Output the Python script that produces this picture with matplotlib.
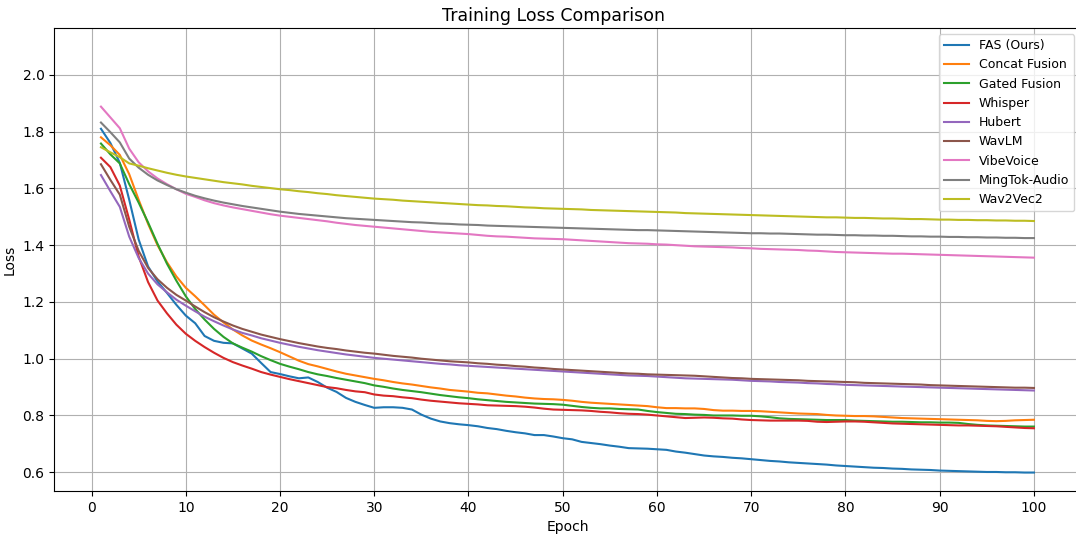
import numpy as np
import matplotlib
matplotlib.use("Agg")
import matplotlib.pyplot as plt

epochs = np.arange(1, 101)

fas = [1.810, 1.760, 1.690, 1.560, 1.420, 1.325, 1.272, 1.232, 1.190, 1.152,
       1.125, 1.080, 1.063, 1.056, 1.054, 1.036, 1.018, 0.985, 0.953, 0.946,
       0.938, 0.931, 0.934, 0.918, 0.898, 0.883, 0.862, 0.848, 0.837, 0.827,
       0.829, 0.829, 0.827, 0.821, 0.803, 0.789, 0.779, 0.773, 0.769, 0.766,
       0.762, 0.756, 0.752, 0.746, 0.741, 0.737, 0.731, 0.731, 0.726, 0.720,
       0.716, 0.707, 0.703, 0.699, 0.694, 0.690, 0.685, 0.684, 0.683, 0.681,
       0.679, 0.673, 0.669, 0.664, 0.659, 0.656, 0.654, 0.651, 0.649, 0.646,
       0.643, 0.640, 0.638, 0.635, 0.633, 0.631, 0.629, 0.627, 0.624, 0.622,
       0.620, 0.618, 0.616, 0.615, 0.613, 0.612, 0.610, 0.609, 0.608, 0.606,
       0.605, 0.604, 0.603, 0.602, 0.601, 0.601, 0.600, 0.600, 0.599, 0.599]

concat = [1.780, 1.752, 1.718, 1.650, 1.560, 1.475, 1.400, 1.340, 1.290, 1.250,
          1.220, 1.188, 1.155, 1.128, 1.103, 1.082, 1.064, 1.050, 1.037, 1.023,
          1.008, 0.993, 0.981, 0.973, 0.964, 0.955, 0.947, 0.941, 0.935, 0.929,
          0.924, 0.918, 0.913, 0.909, 0.904, 0.899, 0.895, 0.890, 0.887, 0.884,
          0.880, 0.878, 0.874, 0.870, 0.867, 0.863, 0.860, 0.858, 0.857, 0.855,
          0.852, 0.848, 0.845, 0.843, 0.841, 0.839, 0.837, 0.835, 0.833, 0.829,
          0.826, 0.826, 0.825, 0.825, 0.823, 0.819, 0.817, 0.817, 0.816, 0.816,
          0.815, 0.813, 0.811, 0.809, 0.807, 0.806, 0.805, 0.802, 0.800, 0.799,
          0.798, 0.798, 0.797, 0.795, 0.793, 0.791, 0.790, 0.789, 0.788, 0.787,
          0.786, 0.785, 0.784, 0.783, 0.781, 0.780, 0.781, 0.783, 0.784, 0.785]

gated = [1.758, 1.720, 1.688, 1.615, 1.550, 1.480, 1.405, 1.335, 1.275, 1.220,
         1.175, 1.138, 1.105, 1.077, 1.054, 1.039, 1.025, 1.009, 0.995, 0.982,
         0.972, 0.963, 0.953, 0.945, 0.939, 0.932, 0.926, 0.920, 0.914, 0.906,
         0.901, 0.895, 0.890, 0.886, 0.882, 0.877, 0.872, 0.868, 0.864, 0.861,
         0.857, 0.854, 0.851, 0.848, 0.846, 0.844, 0.842, 0.841, 0.840, 0.838,
         0.834, 0.830, 0.827, 0.825, 0.825, 0.823, 0.822, 0.821, 0.816, 0.812,
         0.809, 0.806, 0.805, 0.803, 0.802, 0.800, 0.800, 0.800, 0.799, 0.799,
         0.797, 0.794, 0.790, 0.788, 0.787, 0.786, 0.785, 0.784, 0.784, 0.784,
         0.782, 0.781, 0.780, 0.779, 0.778, 0.778, 0.777, 0.776, 0.776, 0.775,
         0.775, 0.774, 0.770, 0.767, 0.765, 0.764, 0.763, 0.762, 0.761, 0.761]

whisper = [1.708, 1.675, 1.610, 1.490, 1.360, 1.270, 1.205, 1.160, 1.120, 1.088,
           1.063, 1.041, 1.021, 1.003, 0.988, 0.976, 0.965, 0.953, 0.944, 0.936,
           0.928, 0.921, 0.914, 0.907, 0.900, 0.896, 0.890, 0.885, 0.882, 0.874,
           0.870, 0.868, 0.864, 0.861, 0.856, 0.852, 0.849, 0.846, 0.843, 0.841,
           0.839, 0.836, 0.835, 0.834, 0.833, 0.831, 0.828, 0.824, 0.821, 0.820,
           0.819, 0.818, 0.816, 0.813, 0.811, 0.808, 0.806, 0.805, 0.803, 0.800,
           0.797, 0.794, 0.791, 0.792, 0.793, 0.792, 0.790, 0.789, 0.786, 0.784,
           0.783, 0.782, 0.782, 0.782, 0.782, 0.781, 0.778, 0.777, 0.778, 0.779,
           0.779, 0.778, 0.776, 0.774, 0.772, 0.771, 0.770, 0.769, 0.768, 0.767,
           0.766, 0.765, 0.765, 0.764, 0.763, 0.762, 0.760, 0.758, 0.756, 0.755]

hubert = [1.647, 1.590, 1.535, 1.430, 1.355, 1.300, 1.262, 1.234, 1.208, 1.187,
          1.167, 1.148, 1.132, 1.117, 1.103, 1.091, 1.082, 1.072, 1.064, 1.056,
          1.049, 1.042, 1.036, 1.030, 1.025, 1.020, 1.015, 1.011, 1.007, 1.003,
          1.000, 0.997, 0.994, 0.991, 0.988, 0.985, 0.982, 0.980, 0.977, 0.975,
          0.973, 0.971, 0.969, 0.967, 0.965, 0.963, 0.961, 0.959, 0.957, 0.955,
          0.953, 0.951, 0.949, 0.947, 0.945, 0.943, 0.941, 0.940, 0.939, 0.937,
          0.935, 0.933, 0.931, 0.930, 0.929, 0.928, 0.927, 0.926, 0.924, 0.922,
          0.921, 0.920, 0.918, 0.917, 0.916, 0.914, 0.913, 0.911, 0.910, 0.908,
          0.907, 0.906, 0.905, 0.904, 0.903, 0.902, 0.901, 0.900, 0.899, 0.898,
          0.897, 0.896, 0.895, 0.894, 0.893, 0.892, 0.891, 0.890, 0.889, 0.888]

wavlm = [1.685, 1.630, 1.578, 1.465, 1.380, 1.320, 1.280, 1.250, 1.225, 1.205,
         1.184, 1.164, 1.146, 1.131, 1.117, 1.105, 1.095, 1.085, 1.077, 1.069,
         1.062, 1.055, 1.049, 1.043, 1.038, 1.034, 1.029, 1.025, 1.021, 1.018,
         1.014, 1.010, 1.007, 1.004, 1.000, 0.997, 0.994, 0.991, 0.989, 0.987,
         0.984, 0.982, 0.979, 0.977, 0.974, 0.972, 0.969, 0.967, 0.964, 0.962,
         0.960, 0.958, 0.956, 0.954, 0.952, 0.950, 0.948, 0.947, 0.945, 0.944,
         0.943, 0.942, 0.941, 0.940, 0.938, 0.936, 0.934, 0.932, 0.931, 0.929,
         0.928, 0.927, 0.926, 0.925, 0.924, 0.922, 0.921, 0.920, 0.919, 0.918,
         0.917, 0.915, 0.914, 0.913, 0.912, 0.911, 0.910, 0.909, 0.907, 0.906,
         0.905, 0.904, 0.903, 0.902, 0.901, 0.900, 0.899, 0.898, 0.898, 0.897]

vibevoice = [1.888, 1.850, 1.812, 1.740, 1.692, 1.660, 1.635, 1.615, 1.597, 1.581,
             1.570, 1.558, 1.548, 1.540, 1.533, 1.527, 1.521, 1.515, 1.509, 1.504,
             1.500, 1.496, 1.492, 1.488, 1.484, 1.479, 1.475, 1.471, 1.468, 1.465,
             1.462, 1.459, 1.456, 1.453, 1.450, 1.447, 1.445, 1.443, 1.441, 1.439,
             1.436, 1.433, 1.431, 1.430, 1.428, 1.426, 1.424, 1.423, 1.422, 1.421,
             1.419, 1.417, 1.415, 1.413, 1.411, 1.409, 1.407, 1.406, 1.405, 1.403,
             1.402, 1.400, 1.398, 1.396, 1.395, 1.394, 1.393, 1.392, 1.390, 1.389,
             1.387, 1.386, 1.385, 1.384, 1.383, 1.381, 1.380, 1.378, 1.376, 1.375,
             1.374, 1.373, 1.372, 1.371, 1.370, 1.370, 1.369, 1.368, 1.367, 1.366,
             1.365, 1.364, 1.363, 1.362, 1.361, 1.360, 1.359, 1.358, 1.357, 1.356]

mingtok = [1.832, 1.798, 1.762, 1.705, 1.673, 1.648, 1.628, 1.612, 1.597, 1.585,
           1.574, 1.565, 1.557, 1.550, 1.544, 1.538, 1.533, 1.528, 1.523, 1.518,
           1.514, 1.510, 1.507, 1.504, 1.501, 1.498, 1.495, 1.493, 1.491, 1.489,
           1.487, 1.485, 1.483, 1.481, 1.480, 1.478, 1.476, 1.475, 1.473, 1.472,
           1.471, 1.469, 1.468, 1.467, 1.466, 1.465, 1.464, 1.463, 1.462, 1.461,
           1.460, 1.459, 1.458, 1.457, 1.456, 1.455, 1.454, 1.453, 1.453, 1.452,
           1.451, 1.450, 1.449, 1.448, 1.447, 1.446, 1.445, 1.444, 1.443, 1.442,
           1.442, 1.441, 1.441, 1.440, 1.439, 1.438, 1.437, 1.437, 1.436, 1.435,
           1.435, 1.434, 1.434, 1.433, 1.433, 1.432, 1.431, 1.431, 1.430, 1.430,
           1.429, 1.429, 1.428, 1.428, 1.427, 1.427, 1.426, 1.426, 1.425, 1.425]

wav2vec2 = [1.745, 1.727, 1.710, 1.688, 1.680, 1.671, 1.663, 1.655, 1.648, 1.642,
            1.637, 1.632, 1.627, 1.622, 1.618, 1.614, 1.609, 1.605, 1.601, 1.597,
            1.594, 1.590, 1.587, 1.583, 1.580, 1.576, 1.573, 1.570, 1.567, 1.564,
            1.562, 1.560, 1.557, 1.555, 1.553, 1.551, 1.549, 1.547, 1.545, 1.543,
            1.541, 1.540, 1.538, 1.537, 1.535, 1.533, 1.532, 1.530, 1.529, 1.528,
            1.527, 1.526, 1.524, 1.523, 1.522, 1.521, 1.520, 1.519, 1.518, 1.517,
            1.516, 1.515, 1.513, 1.512, 1.511, 1.510, 1.509, 1.508, 1.507, 1.506,
            1.505, 1.504, 1.503, 1.502, 1.501, 1.500, 1.499, 1.498, 1.498, 1.497,
            1.496, 1.496, 1.495, 1.494, 1.494, 1.493, 1.492, 1.492, 1.491, 1.490,
            1.490, 1.489, 1.489, 1.488, 1.488, 1.487, 1.487, 1.486, 1.486, 1.485]

names = ["FAS (Ours)", "Concat Fusion", "Gated Fusion", "Whisper", "Hubert",
         "WavLM", "VibeVoice", "MingTok-Audio", "Wav2Vec2"]
series = [fas, concat, gated, whisper, hubert, wavlm, vibevoice, mingtok, wav2vec2]

fig = plt.figure(figsize=(10.76, 5.36), dpi=100)
# axes run a little past the right edge, as in the reference crop
ax = fig.add_axes([54.3 / 1076, 45 / 536, (1080.6 - 54.3) / 1076, (491 - 28) / 536])

for name, vals in zip(names, series):
    ax.plot(epochs, vals, label=name, linewidth=1.5)

ax.set_xlim(-3.95, 104.95)
ax.set_ylim(0.534, 2.165)
ax.set_xticks(np.arange(0, 101, 10))
ax.set_xlabel("Epoch")
ax.set_ylabel("Loss")
ax.grid(True)
ax.legend(loc="upper right", fontsize=9)

# title sits a bit left of the axes centre in the reference
fig.text(553 / 1076, 1 - 16 / 536, "Training Loss Comparison", fontsize=12.5,
         ha="center", va="center")

fig.savefig("out.png", dpi=100)
